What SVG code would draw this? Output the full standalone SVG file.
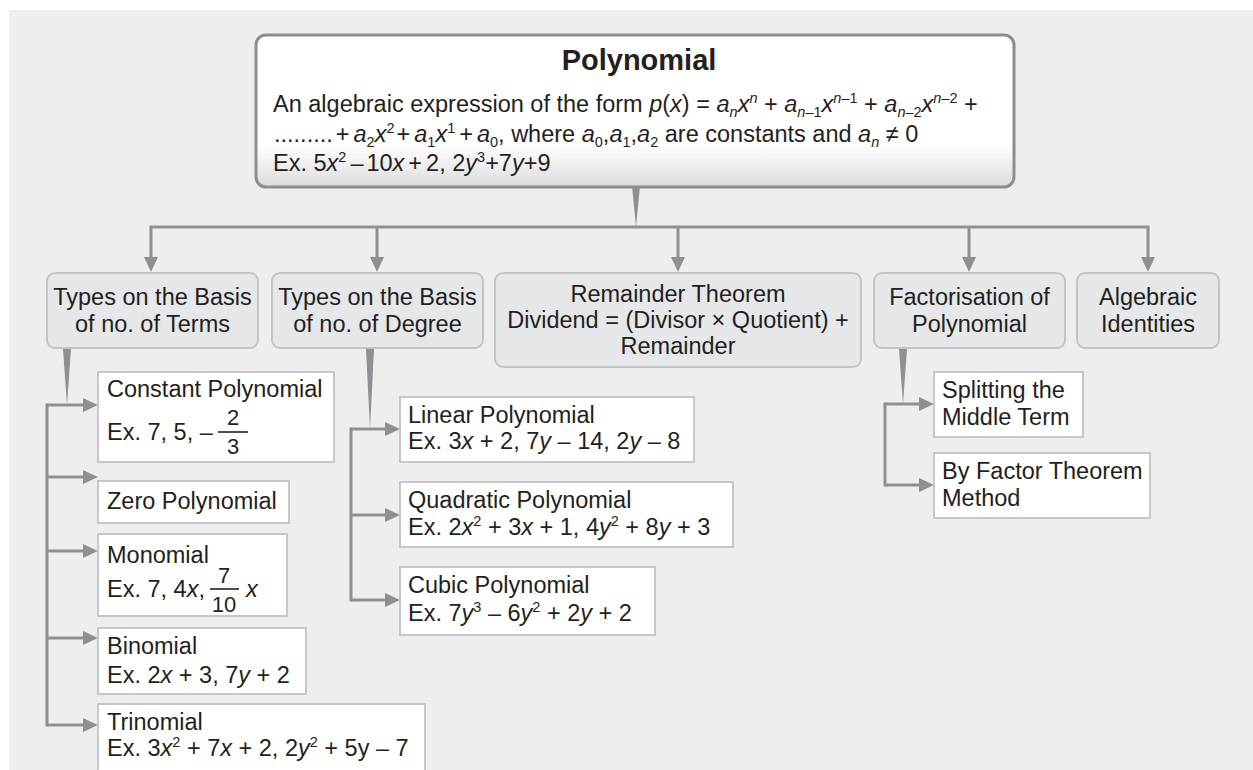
<svg xmlns="http://www.w3.org/2000/svg" width="1253" height="770" viewBox="0 0 1253 770">
<style>
.t{font-family:"Liberation Sans",Arial,Helvetica,sans-serif;font-size:23.5px;fill:#231f20}
.c{text-anchor:middle}
.b{font-weight:bold;font-size:29px}
.i{font-style:italic}
.sub{font-size:14.5px;baseline-shift:-5px}
.sup{font-size:14.5px;baseline-shift:9px}
.fr{font-size:22px;text-anchor:middle}
.cat{fill:#e6e7e8;stroke:#c3c4c6;stroke-width:2}
.item{fill:#ffffff;stroke:#c6c7c9;stroke-width:2}
.ln{stroke:#8f9093;stroke-width:3;fill:none}
.bar{stroke:#231f20;stroke-width:1.6}
.wedge{fill:#8f9093}
</style>
<defs>
<linearGradient id="topg" x1="0" y1="0" x2="0" y2="1">
<stop offset="0" stop-color="#ffffff"/>
<stop offset="0.72" stop-color="#ffffff"/>
<stop offset="1" stop-color="#dcdcdc"/>
</linearGradient>
<marker id="ah" viewBox="0 0 15 14" refX="1" refY="7" markerWidth="15" markerHeight="14" markerUnits="userSpaceOnUse" orient="auto">
<path d="M0,0 L15,7 L0,14 z" fill="#8f9093"/>
</marker>
</defs>
<rect x="9" y="10" width="1244" height="760" fill="#eeeeee"/>

<g id="connectors">
<polygon class="wedge" points="632,186 640,186 636,227"/>
<path class="ln" d="M151,227 H1148" stroke-linecap="square"/>
<line class="ln" x1="151" y1="227" x2="151" y2="258" marker-end="url(#ah)"/>
<line class="ln" x1="377" y1="227" x2="377" y2="258" marker-end="url(#ah)"/>
<line class="ln" x1="678" y1="227" x2="678" y2="258" marker-end="url(#ah)"/>
<line class="ln" x1="969" y1="227" x2="969" y2="258" marker-end="url(#ah)"/>
<line class="ln" x1="1148" y1="227" x2="1148" y2="258" marker-end="url(#ah)"/>

<polygon class="wedge" points="63,349 71,349 67,405"/>
<path class="ln" d="M47,405 V725" stroke-linecap="square"/>
<line class="ln" x1="47" y1="405" x2="84" y2="405" marker-end="url(#ah)"/>
<line class="ln" x1="47" y1="477" x2="84" y2="477" marker-end="url(#ah)"/>
<line class="ln" x1="47" y1="551" x2="84" y2="551" marker-end="url(#ah)"/>
<line class="ln" x1="47" y1="638" x2="84" y2="638" marker-end="url(#ah)"/>
<line class="ln" x1="47" y1="725" x2="84" y2="725" marker-end="url(#ah)"/>

<polygon class="wedge" points="366,349 374,349 370,429"/>
<path class="ln" d="M351,429 V600" stroke-linecap="square"/>
<line class="ln" x1="351" y1="429" x2="386" y2="429" marker-end="url(#ah)"/>
<line class="ln" x1="351" y1="515" x2="386" y2="515" marker-end="url(#ah)"/>
<line class="ln" x1="351" y1="600" x2="386" y2="600" marker-end="url(#ah)"/>

<polygon class="wedge" points="899,349 907,349 903,404"/>
<path class="ln" d="M885,404 V485" stroke-linecap="square"/>
<line class="ln" x1="885" y1="404" x2="920" y2="404" marker-end="url(#ah)"/>
<line class="ln" x1="885" y1="485" x2="920" y2="485" marker-end="url(#ah)"/>
</g>

<g id="polynomial">
<rect x="256" y="35" width="758" height="152" rx="10" fill="url(#topg)" stroke="#8c8d90" stroke-width="3"/>
<text class="t c b" x="639" y="70">Polynomial</text>
<text class="t" x="273" y="112">An algebraic expression of the form <tspan class="i">p</tspan>(<tspan class="i">x</tspan>) = <tspan class="i">a</tspan><tspan class="sub i">n</tspan><tspan class="i">x</tspan><tspan class="sup i">n</tspan> + <tspan class="i">a</tspan><tspan class="sub"><tspan class="i">n</tspan>–1</tspan><tspan class="i">x</tspan><tspan class="sup"><tspan class="i">n</tspan>–1</tspan> + <tspan class="i">a</tspan><tspan class="sub"><tspan class="i">n</tspan>–2</tspan><tspan class="i">x</tspan><tspan class="sup"><tspan class="i">n</tspan>–2</tspan> +</text>
<text class="t" x="274" y="142">.........<tspan dx="3">+</tspan><tspan class="i" dx="4">a</tspan><tspan class="sub">2</tspan><tspan class="i">x</tspan><tspan class="sup">2</tspan><tspan dx="2">+</tspan><tspan class="i" dx="4">a</tspan><tspan class="sub">1</tspan><tspan class="i">x</tspan><tspan class="sup">1</tspan><tspan dx="4">+</tspan><tspan class="i" dx="4">a</tspan><tspan class="sub">0</tspan>, where <tspan class="i">a</tspan><tspan class="sub">0</tspan>,<tspan class="i">a</tspan><tspan class="sub">1</tspan>,<tspan class="i">a</tspan><tspan class="sub">2</tspan> are constants and <tspan class="i">a</tspan><tspan class="sub i">n</tspan> ≠ 0</text>
<text class="t" x="273" y="171">Ex. 5<tspan class="i">x</tspan><tspan class="sup">2</tspan><tspan dx="4">–</tspan><tspan dx="3">10</tspan><tspan class="i">x</tspan><tspan dx="4">+</tspan><tspan dx="4">2,</tspan> 2<tspan class="i">y</tspan><tspan class="sup">3</tspan>+7<tspan class="i">y</tspan>+9</text>
</g>

<g id="terms">
<rect class="cat" x="47" y="273" width="211" height="75" rx="8"/>
<text class="t c" x="152.5" y="305">Types on the Basis</text>
<text class="t c" x="152.5" y="332">of no. of Terms</text>
</g>
<g id="degree">
<rect class="cat" x="272" y="273" width="211" height="75" rx="8"/>
<text class="t c" x="377.5" y="305">Types on the Basis</text>
<text class="t c" x="377.5" y="332">of no. of Degree</text>
</g>
<g id="remainder">
<rect class="cat" x="495" y="273" width="366" height="94" rx="8"/>
<text class="t c" x="678" y="302">Remainder Theorem</text>
<text class="t c" x="678" y="328">Dividend = (Divisor × Quotient) +</text>
<text class="t c" x="678" y="354">Remainder</text>
</g>
<g id="factorisation">
<rect class="cat" x="874" y="273" width="191" height="75" rx="8"/>
<text class="t c" x="969.5" y="305">Factorisation of</text>
<text class="t c" x="969.5" y="332">Polynomial</text>
</g>
<g id="identities">
<rect class="cat" x="1077" y="273" width="142" height="75" rx="8"/>
<text class="t c" x="1148" y="305">Algebraic</text>
<text class="t c" x="1148" y="332">Identities</text>
</g>

<g id="constant">
<rect class="item" x="98" y="372" width="236" height="90"/>
<text class="t" x="107" y="397">Constant Polynomial</text>
<text class="t" x="107" y="440">Ex. 7, 5, –</text>
<text class="t fr" x="233" y="425">2</text>
<line class="bar" x1="218" y1="432" x2="248" y2="432"/>
<text class="t fr" x="233" y="454">3</text>
</g>
<g id="zero">
<rect class="item" x="98" y="481" width="191" height="42"/>
<text class="t" x="107" y="509">Zero Polynomial</text>
</g>
<g id="monomial">
<rect class="item" x="98" y="534" width="189" height="82"/>
<text class="t" x="107" y="563">Monomial</text>
<text class="t" x="107" y="597">Ex. 7, 4<tspan class="i">x</tspan>,</text>
<text class="t fr" x="224" y="583">7</text>
<line class="bar" x1="210" y1="589" x2="239" y2="589"/>
<text class="t fr" x="224" y="612">10</text>
<text class="t i" x="246" y="597">x</text>
</g>
<g id="binomial">
<rect class="item" x="98" y="628" width="208" height="66"/>
<text class="t" x="107" y="654">Binomial</text>
<text class="t" x="107" y="683">Ex. 2<tspan class="i">x</tspan> + 3, 7<tspan class="i">y</tspan> + 2</text>
</g>
<g id="trinomial">
<rect class="item" x="98" y="704" width="327" height="72"/>
<text class="t" x="107" y="730">Trinomial</text>
<text class="t" x="107" y="756">Ex. 3<tspan class="i">x</tspan><tspan class="sup">2</tspan> + 7<tspan class="i">x</tspan> + 2, 2<tspan class="i">y</tspan><tspan class="sup">2</tspan> + 5y – 7</text>
</g>

<g id="linear">
<rect class="item" x="400" y="397" width="294" height="65"/>
<text class="t" x="408" y="423">Linear Polynomial</text>
<text class="t" x="408" y="449">Ex. 3<tspan class="i">x</tspan> + 2, 7<tspan class="i">y</tspan> – 14, 2<tspan class="i">y</tspan> – 8</text>
</g>
<g id="quadratic">
<rect class="item" x="400" y="482" width="333" height="65"/>
<text class="t" x="408" y="508">Quadratic Polynomial</text>
<text class="t" x="408" y="535">Ex. 2<tspan class="i">x</tspan><tspan class="sup">2</tspan> + 3<tspan class="i">x</tspan> + 1, 4<tspan class="i">y</tspan><tspan class="sup">2</tspan> + 8<tspan class="i">y</tspan> + 3</text>
</g>
<g id="cubic">
<rect class="item" x="400" y="567" width="255" height="68"/>
<text class="t" x="408" y="593">Cubic Polynomial</text>
<text class="t" x="408" y="621">Ex. 7<tspan class="i">y</tspan><tspan class="sup">3</tspan> – 6<tspan class="i">y</tspan><tspan class="sup">2</tspan> + 2<tspan class="i">y</tspan> + 2</text>
</g>

<g id="splitting">
<rect class="item" x="934" y="372" width="149" height="65"/>
<text class="t" x="942" y="398">Splitting the</text>
<text class="t" x="942" y="425">Middle Term</text>
</g>
<g id="factortheorem">
<rect class="item" x="934" y="453" width="216" height="65"/>
<text class="t" x="942" y="479">By Factor Theorem</text>
<text class="t" x="942" y="506">Method</text>
</g>
</svg>
